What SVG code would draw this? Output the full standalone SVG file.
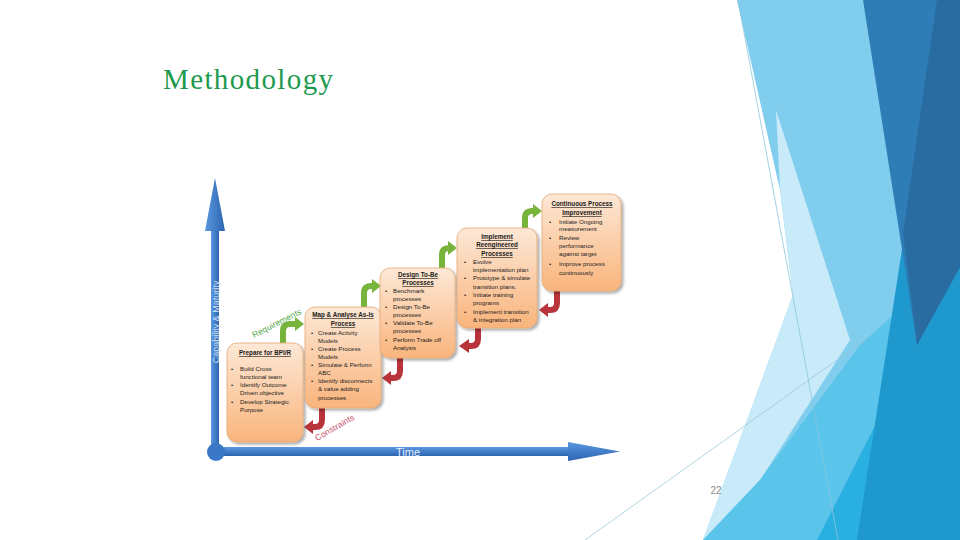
<svg xmlns="http://www.w3.org/2000/svg" width="960" height="540" viewBox="0 0 960 540">
<defs>
<linearGradient id="boxg" x1="0" y1="0" x2="0" y2="1">
<stop offset="0" stop-color="#fde8d6"/>
<stop offset="1" stop-color="#f9b47c"/>
</linearGradient>
<linearGradient id="vax" x1="0" y1="0" x2="1" y2="0">
<stop offset="0" stop-color="#5a98e0"/>
<stop offset="1" stop-color="#2d64b0"/>
</linearGradient>
<linearGradient id="hax" x1="0" y1="0" x2="0" y2="1">
<stop offset="0" stop-color="#5a98e0"/>
<stop offset="1" stop-color="#2d64b0"/>
</linearGradient>
<filter id="sh" x="-10%" y="-10%" width="130%" height="130%">
<feGaussianBlur in="SourceAlpha" stdDeviation="1.5"/>
<feOffset dx="1.5" dy="2" result="b"/>
<feComponentTransfer><feFuncA type="linear" slope="0.35"/></feComponentTransfer>
<feMerge><feMergeNode/><feMergeNode in="SourceGraphic"/></feMerge>
</filter>
<style>
.box{fill:url(#boxg);stroke:#e4a873;stroke-width:0.8;filter:url(#sh)}
.t{font-family:"Liberation Sans",Arial,sans-serif;font-size:6.2px;fill:#1a1a1a}
.h{font-family:"Liberation Sans",Arial,sans-serif;font-size:6.3px;font-weight:bold;fill:#1a1a1a;text-anchor:middle;text-decoration:underline}
.g{fill:none;stroke:#76b43c;stroke-width:6}
.gh{fill:#76b43c}
.r{fill:none;stroke:#b8343a;stroke-width:6}
.rh{fill:#b8343a}
</style>
</defs>
<rect width="960" height="540" fill="#ffffff"/>
<g id="decoration">
<polygon points="737,0 960,0 960,540 703,540 793,295 780,190" fill="#80cdee"/>
<polygon points="776,110 850,340 760,480 703,540 793,295 780,190" fill="#c9ebf9"/>
<polygon points="703,540 760,480 860,345 960,255 960,540" fill="#5bc4ea"/>
<polygon points="817,540 917,343 960,267 960,540" fill="#2aafe1"/>
<polygon points="857,540 905,230 960,230 960,540" fill="#1e98cd"/>
<polygon points="863,0 960,0 960,267 917,345" fill="#2f7db6"/>
<polygon points="937,0 960,0 960,267 917,345 903,233" fill="#296ca1"/>
<line x1="738" y1="0" x2="838" y2="540" stroke="#8cc5dc" stroke-width="0.8"/>
<line x1="585" y1="540" x2="865" y2="340" stroke="#9cc9da" stroke-width="0.8"/>
</g>
<text x="163" y="89" font-family="Liberation Serif,serif" font-size="29" fill="#1e9a4f" textLength="170">Methodology</text>
<g id="axes">
<rect x="211" y="228" width="8" height="224" fill="url(#vax)"/>
<polygon points="205,231 215,178 225,231" fill="url(#vax)"/>
<rect x="216" y="447" width="354" height="9" fill="url(#hax)"/>
<polygon points="568,442 620,451.5 568,461" fill="url(#hax)"/>
<circle cx="216" cy="452" r="9" fill="#3a77c6"/>
<text x="408" y="456" font-family="Liberation Sans,Arial,sans-serif" font-size="11" fill="#e6efff" text-anchor="middle">Time</text>
<text transform="translate(219,322) rotate(-90)" font-family="Liberation Sans,Arial,sans-serif" font-size="9" fill="#d2e2f6" text-anchor="middle">Capability &amp; Maturity</text>
</g>
<g id="connectors">
<path class="g" d="M283,343 V331 Q283,324 290,324 H296"/>
<polygon class="gh" points="295,317 304,324 295,331"/>
<path class="g" d="M364,307 V293 Q364,286 371,286 H373"/>
<polygon class="gh" points="372,279 381,286 372,293"/>
<path class="g" d="M442,268 V255 Q442,248 449,248 H449"/>
<polygon class="gh" points="448,241 457,248 448,255"/>
<path class="g" d="M525,228 V218 Q525,211 532,211 H534"/>
<polygon class="gh" points="533,204 542,211 533,218"/>
<path class="r" d="M322,408 V420 Q322,427 315,427 H312"/>
<polygon class="rh" points="313,420 304,427 313,434"/>
<path class="r" d="M400,358 V371 Q400,378 393,378 H390"/>
<polygon class="rh" points="391,371 382,378 391,385"/>
<path class="r" d="M478,328 V339 Q478,346 471,346 H468"/>
<polygon class="rh" points="469,339 459,346 469,353"/>
<path class="r" d="M557,291 V303 Q557,310 550,310 H547"/>
<polygon class="rh" points="548,303 539,310 548,317"/>
<text transform="translate(254,338) rotate(-27)" font-family="Liberation Sans,Arial,sans-serif" font-size="8.5" fill="#52a84a" textLength="54">Requirements</text>
<text transform="translate(317,441) rotate(-30)" font-family="Liberation Sans,Arial,sans-serif" font-size="8.5" fill="#c8506a" textLength="44">Constraints</text>
</g>
<g id="node1">
<rect class="box" x="227" y="343" width="76" height="99" rx="10"/>
<text class="h" x="265" y="355">Prepare for BPI/R</text>
<text class="t" x="231" y="371">•</text><text class="t" x="240" y="371">Build Cross</text>
<text class="t" x="240" y="379">functional team</text>
<text class="t" x="231" y="387">•</text><text class="t" x="240" y="387">Identify Outcome</text>
<text class="t" x="240" y="395">Driven objective</text>
<text class="t" x="231" y="404">•</text><text class="t" x="240" y="404">Develop Strategic</text>
<text class="t" x="240" y="412">Purpose</text>
</g>
<g id="node2">
<rect class="box" x="305" y="307" width="76" height="101" rx="10"/>
<text class="h" x="343" y="317">Map &amp; Analyse As-Is</text>
<text class="h" x="343" y="326">Process</text>
<text class="t" x="311" y="335">•</text><text class="t" x="318" y="335">Create Activity</text>
<text class="t" x="318" y="343">Models</text>
<text class="t" x="311" y="351">•</text><text class="t" x="318" y="351">Create Process</text>
<text class="t" x="318" y="359">Models</text>
<text class="t" x="311" y="367">•</text><text class="t" x="318" y="367">Simulate &amp; Perform</text>
<text class="t" x="318" y="375">ABC</text>
<text class="t" x="311" y="383">•</text><text class="t" x="318" y="383">Identify disconnects</text>
<text class="t" x="318" y="391">&amp; value adding</text>
<text class="t" x="318" y="400">processes</text>
</g>
<g id="node3">
<rect class="box" x="380" y="268" width="75" height="90" rx="10"/>
<text class="h" x="418" y="277">Design To-Be</text>
<text class="h" x="418" y="285">Processes</text>
<text class="t" x="385" y="293">•</text><text class="t" x="393" y="293">Benchmark</text>
<text class="t" x="393" y="301">processes</text>
<text class="t" x="385" y="309">•</text><text class="t" x="393" y="309">Design To-Be</text>
<text class="t" x="393" y="317">processes</text>
<text class="t" x="385" y="325">•</text><text class="t" x="393" y="325">Validate To-Be</text>
<text class="t" x="393" y="333">processes</text>
<text class="t" x="385" y="342">•</text><text class="t" x="393" y="342">Perform Trade off</text>
<text class="t" x="393" y="350">Analysis</text>
</g>
<g id="node4">
<rect class="box" x="457" y="228" width="80" height="100" rx="10"/>
<text class="h" x="497" y="239">Implement</text>
<text class="h" x="497" y="247">Reengineered</text>
<text class="h" x="497" y="256">Processes</text>
<text class="t" x="464" y="264">•</text><text class="t" x="473" y="264">Evolve</text>
<text class="t" x="473" y="272">implementation plan</text>
<text class="t" x="464" y="280">•</text><text class="t" x="473" y="280">Prototype &amp; simulate</text>
<text class="t" x="473" y="289">transition plans.</text>
<text class="t" x="464" y="297">•</text><text class="t" x="473" y="297">Initiate training</text>
<text class="t" x="473" y="305">programs</text>
<text class="t" x="464" y="314">•</text><text class="t" x="473" y="314">Implement transition</text>
<text class="t" x="473" y="322">&amp; integration plan</text>
</g>
<g id="node5">
<rect class="box" x="542" y="194" width="79" height="97" rx="10"/>
<text class="h" x="582" y="206">Continuous Process</text>
<text class="h" x="582" y="215">Improvement</text>
<text class="t" x="549" y="224">•</text><text class="t" x="559" y="224">Initiate Ongoing</text>
<text class="t" x="559" y="231">measurement</text>
<text class="t" x="549" y="240">•</text><text class="t" x="559" y="240">Review</text>
<text class="t" x="559" y="248">performance</text>
<text class="t" x="559" y="256">against target</text>
<text class="t" x="549" y="266">•</text><text class="t" x="559" y="266">Improve process</text>
<text class="t" x="559" y="275">continuously</text>
</g>
<text x="716" y="494" font-family="Liberation Sans,Arial,sans-serif" font-size="10" fill="#8a8a8a" text-anchor="middle">22</text>
</svg>
